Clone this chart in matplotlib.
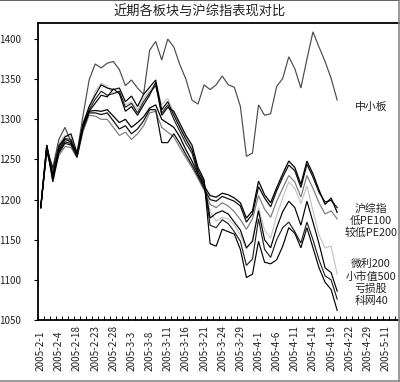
import matplotlib
matplotlib.use("Agg")
import matplotlib.pyplot as plt
from matplotlib.lines import Line2D

plt.rcParams["font.family"] = ["Noto Sans CJK SC", "DejaVu Sans"]

# ---------------------------------------------------------------------------
# Data (index values, one value per trading day)
# ---------------------------------------------------------------------------
N_CATEGORIES = 60
TICK_LABELS = ["2005-2-1", "2005-2-4", "2005-2-18", "2005-2-23", "2005-2-28",
               "2005-3-3", "2005-3-8", "2005-3-11", "2005-3-16", "2005-3-21",
               "2005-3-24", "2005-3-29", "2005-4-1", "2005-4-6", "2005-4-11",
               "2005-4-14", "2005-4-19", "2005-4-22", "2005-4-29", "2005-5-11"]

zxb = [1190, 1262, 1240, 1275, 1290, 1272, 1258, 1305, 1349, 1369,
       1364, 1370, 1372, 1362, 1342, 1349, 1339, 1331, 1386, 1397,
       1374, 1400, 1390, 1368, 1350, 1324, 1319, 1343, 1337, 1343,
       1354, 1343, 1340, 1316, 1254, 1258, 1318, 1305, 1307, 1341,
       1351, 1378, 1363, 1339, 1375, 1409, 1390, 1372, 1351, 1324]

szzz = [1190, 1268, 1225, 1262, 1275, 1272, 1256, 1290, 1310, 1311,
        1310, 1312, 1304, 1296, 1300, 1290, 1296, 1303, 1314, 1318,
        1300, 1295, 1290, 1278, 1262, 1248, 1232, 1217, 1205, 1203,
        1208, 1206, 1202, 1196, 1177, 1186, 1223, 1206, 1196, 1215,
        1232, 1248, 1240, 1219, 1248, 1232, 1212, 1194, 1202, 1184]

low_pe100 = [1190, 1266, 1222, 1258, 1270, 1268, 1254, 1288, 1308, 1308,
             1306, 1308, 1298, 1288, 1292, 1282, 1288, 1298, 1312, 1312,
             1271, 1271, 1282, 1270, 1256, 1243, 1229, 1214, 1200, 1198,
             1204, 1201, 1198, 1192, 1172, 1182, 1216, 1202, 1191, 1211,
             1228, 1243, 1236, 1215, 1244, 1228, 1209, 1197, 1199, 1190]

lower_pe200 = [1190, 1264, 1228, 1255, 1266, 1265, 1252, 1285, 1305, 1304,
               1300, 1300, 1290, 1280, 1284, 1275, 1282, 1292, 1308, 1310,
               1290, 1284, 1278, 1265, 1252, 1240, 1226, 1212, 1194, 1190,
               1196, 1192, 1185, 1175, 1163, 1176, 1205, 1188, 1178, 1198,
               1214, 1230, 1222, 1203, 1230, 1214, 1196, 1182, 1186, 1176]

weili200 = [1190, 1262, 1235, 1270, 1280, 1278, 1258, 1292, 1314, 1335,
            1345, 1341, 1332, 1334, 1318, 1322, 1312, 1326, 1336, 1344,
            1318, 1326, 1308, 1292, 1278, 1265, 1238, 1222, 1185, 1173,
            1178, 1176, 1168, 1156, 1138, 1150, 1190, 1162, 1152, 1180,
            1202, 1222, 1214, 1195, 1217, 1186, 1156, 1140, 1142, 1107]

small_cap500 = [1190, 1268, 1230, 1265, 1278, 1282, 1258, 1295, 1316, 1330,
                1343, 1339, 1337, 1339, 1322, 1329, 1316, 1331, 1340, 1349,
                1312, 1322, 1305, 1290, 1275, 1262, 1236, 1222, 1177, 1183,
                1186, 1182, 1172, 1162, 1140, 1148, 1186, 1150, 1140, 1165,
                1185, 1198, 1190, 1168, 1198, 1172, 1145, 1115, 1109, 1086]

loss_making = [1190, 1265, 1238, 1268, 1276, 1275, 1255, 1293, 1312, 1325,
               1335, 1330, 1332, 1335, 1315, 1320, 1308, 1322, 1333, 1342,
               1308, 1318, 1300, 1285, 1270, 1258, 1232, 1220, 1168, 1165,
               1175, 1170, 1160, 1148, 1118, 1126, 1176, 1138, 1128, 1150,
               1165, 1172, 1160, 1146, 1172, 1150, 1125, 1105, 1100, 1076]

tech40 = [1190, 1260, 1232, 1260, 1272, 1270, 1253, 1292, 1310, 1320,
          1330, 1328, 1338, 1332, 1310, 1316, 1305, 1318, 1330, 1346,
          1305, 1315, 1310, 1295, 1280, 1268, 1240, 1225, 1145, 1142,
          1163, 1160, 1157, 1138, 1103, 1107, 1148, 1122, 1120, 1125,
          1142, 1165, 1158, 1140, 1165, 1140, 1115, 1097, 1088, 1062]

# (series, colour, width) drawn from back to front
SERIES = [
    (weili200, "#c4c4c4", 0.85),
    (zxb, "#4a4a4a", 0.85),
    (lower_pe200, "#7a7a7a", 0.85),
    (loss_making, "#222222", 0.85),
    (small_cap500, "#000000", 0.85),
    (tech40, "#000000", 0.85),
    (low_pe100, "#111111", 0.9),
    (szzz, "#000000", 0.9),
]

LABELS_TOP = ["中小板"]
LABELS_MID = ["沪综指", "低PE100", "较低PE200"]
LABELS_LOW = ["微利200", "小市值500", "亏损股", "科网40"]

# ---------------------------------------------------------------------------
# Figure
# ---------------------------------------------------------------------------
fig = plt.figure(figsize=(4.0, 3.82), dpi=100)
ax = fig.add_axes([37.7 / 400, 62 / 382, 363 / 400, 297 / 382])

x = list(range(len(szzz)))
for vals, color, lw in SERIES:
    ax.plot(x, vals, color=color, lw=lw, solid_joinstyle="miter")

ax.set_xlim(-0.5, N_CATEGORIES - 0.5)
ax.set_ylim(1050, 1420)

ax.set_yticks(range(1050, 1401, 50))
ax.tick_params(axis="y", direction="out", length=3, width=0.8, pad=9,
               labelsize=7, labelcolor="#222222")

tick_pos = list(range(0, 3 * len(TICK_LABELS), 3))
ax.set_xticks(tick_pos)
ax.set_xticklabels(TICK_LABELS)
ax.set_xticks([k - 0.5 for k in range(N_CATEGORIES + 1)], minor=True)
ax.tick_params(axis="x", which="major", length=0, pad=37, labelsize=7.2,
               labelcolor="#222222")
ax.tick_params(axis="x", which="minor", direction="in", length=3, width=0.7)
for lbl in ax.get_xticklabels():
    lbl.set_rotation(90)
    lbl.set_rotation_mode("anchor")
    lbl.set_ha("left")
    lbl.set_va("center")

ax.spines["right"].set_visible(False)
ax.spines["left"].set_linewidth(1.3)
ax.spines["bottom"].set_linewidth(1.3)
ax.spines["top"].set_linewidth(1.3)

# series names at the right-hand side
lx = 54.6
ax.text(lx, 1316, LABELS_TOP[0], ha="center", va="center", fontsize=7.8,
        color="#222222")
for k, name in enumerate(LABELS_MID):
    ax.text(lx, 1189 - 15 * k, name, ha="center", va="center", fontsize=7.8,
            color="#222222")
for k, name in enumerate(LABELS_LOW):
    ax.text(lx, 1120 - 15.6 * k, name, ha="center", va="center", fontsize=7.8,
            color="#222222")

fig.text(0.5, 1 - 12 / 382, "近期各板块与沪综指表现对比", ha="center",
         va="center", fontsize=9.5, color="#222222")

# thin picture frame (top, right, bottom)
for xs, ys, c in [([0, 1], [0.999, 0.999], "#444444"),
                  ([0.9975, 0.9975], [0, 1], "#888888"),
                  ([0, 1], [0.0015, 0.0015], "#888888")]:
    fig.add_artist(Line2D(xs, ys, transform=fig.transFigure, color=c, lw=1.2))

fig.savefig("out.png", dpi=100)
